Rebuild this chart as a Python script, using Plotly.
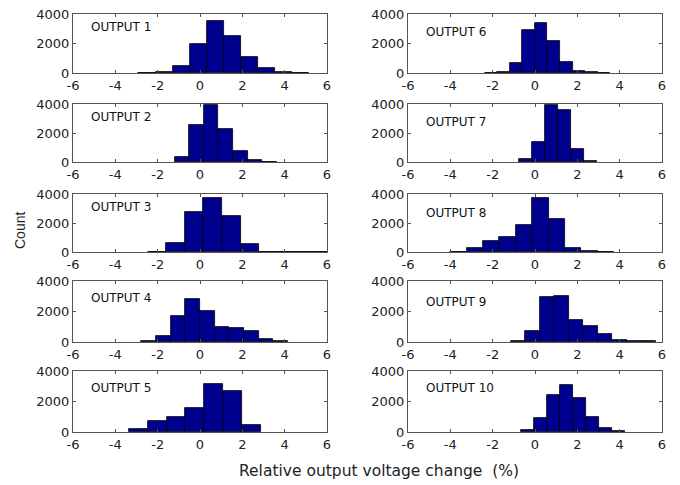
import numpy as np
import plotly.graph_objects as go

# Histogram data: first bin edge, last bin edge, counts (10 bins each)
outputs = ["OUTPUT 1", "OUTPUT 2", "OUTPUT 3", "OUTPUT 4", "OUTPUT 5",
           "OUTPUT 6", "OUTPUT 7", "OUTPUT 8", "OUTPUT 9", "OUTPUT 10"]
bin_lo = [-2.91, -3.27, -2.47, -2.78, -3.36, -2.38, -0.74, -4.00, -1.15, -0.68]
bin_hi = [5.17, 3.63, 6.31, 4.16, 5.54, 3.56, 5.36, 3.73, 5.70, 5.47]
counts1 = [20, 80, 500, 2000, 3500, 2500, 1070, 340, 40, 20]
counts2 = [0, 0, 0, 370, 2550, 3900, 2250, 780, 140, 10]
counts3 = [20, 600, 2750, 3700, 2450, 560, 20, 10, 10, 10]
counts4 = [65, 415, 1700, 2820, 2030, 1005, 900, 700, 175, 45]
counts5 = [175, 720, 1005, 1550, 3170, 2710, 460, 0, 0, 0]
counts6 = [20, 70, 660, 2890, 3390, 2180, 750, 160, 40, 20]
counts7 = [220, 1350, 3900, 3600, 915, 90, 0, 0, 0, 0]
counts8 = [20, 280, 780, 1030, 1870, 3700, 2300, 275, 40, 20]
counts9 = [65, 720, 2950, 2995, 1420, 1030, 500, 150, 45, 40]
counts10 = [110, 900, 2400, 3080, 2230, 985, 285, 45, 0, 0]
all_counts = [counts1, counts2, counts3, counts4, counts5,
              counts6, counts7, counts8, counts9, counts10]

x_ticks = [-6, -4, -2, 0, 2, 4, 6]
y_ticks = [0, 2000, 4000]

W, H = 680, 485
col_px = [(73, 327), (408, 662)]
row_px = [(14, 73), (104, 162), (194, 252), (281, 342), (371, 432)]
label_y = [[0.78, 0.78, 0.78, 0.72, 0.72], [0.69, 0.69, 0.67, 0.66, 0.72]]

fig = go.Figure()
FONT = "DejaVu Sans, sans-serif"
layout = {}
annotations = []
for k in range(10):
    col = k // 5
    row = k % 5
    n = len(all_counts[k])
    edges = np.linspace(bin_lo[k], bin_hi[k], n + 1)
    centers = (edges[:-1] + edges[1:]) / 2
    w = edges[1] - edges[0]
    yvals = [c if c > 0 else None for c in all_counts[k]]
    ax = "" if k == 0 else str(k + 1)
    fig.add_trace(go.Bar(
        x=centers, y=yvals, width=w,
        marker=dict(color="#00008F", line=dict(color="black", width=0.8)),
        xaxis="x" + ax, yaxis="y" + ax, showlegend=False,
        hoverinfo="x+y"))
    x0, x1 = col_px[col]
    y0, y1 = row_px[row]
    common = dict(showgrid=False, zeroline=False, showline=True, mirror="ticks",
                  linecolor="#555555", linewidth=1, ticks="inside", ticklen=3,
                  tickcolor="#555555", automargin=False,
                  tickfont=dict(family=FONT, size=13, color="#222222"))
    layout["xaxis" + ax] = dict(domain=[x0 / W, x1 / W], range=[-6, 6],
                                tickvals=x_ticks, ticktext=[str(t) for t in x_ticks],
                                anchor="y" + ax, **common)
    layout["yaxis" + ax] = dict(domain=[1 - y1 / H, 1 - y0 / H], range=[0, 4000],
                                tickvals=y_ticks, ticktext=[str(t) for t in y_ticks],
                                anchor="x" + ax, **common)
    annotations.append(dict(text=outputs[k], x=-5.25, y=label_y[col][row],
                            xref="x" + ax, yref="y" + ax + " domain",
                            xanchor="left", yanchor="middle", showarrow=False,
                            font=dict(family=FONT, size=12, color="#111111")))

annotations.append(dict(text="Count", x=20 / W, y=1 - 231 / H, xref="paper", yref="paper",
                        textangle=-90, showarrow=False, xanchor="center", yanchor="middle",
                        font=dict(family="Liberation Sans, Arial, sans-serif", size=14,
                                  color="#222222")))
annotations.append(dict(text="Relative output voltage change  (%)", x=379 / W, y=1 - 471 / H,
                        xref="paper", yref="paper", showarrow=False,
                        xanchor="center", yanchor="middle",
                        font=dict(family=FONT, size=15.5, color="#222222")))

fig.update_layout(template="none", width=W, height=H, margin=dict(l=0, r=0, t=0, b=0),
                  paper_bgcolor="white", plot_bgcolor="white", bargap=0,
                  annotations=annotations, **layout)
fig.write_html("out.html", config={"displayModeBar": False},
               post_script="document.body.style.margin='0';document.body.style.overflow='hidden';")
